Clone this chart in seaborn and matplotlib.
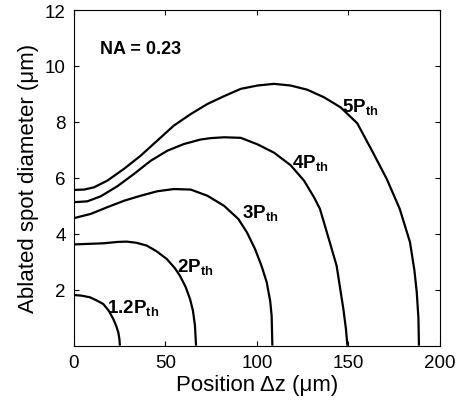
import matplotlib
matplotlib.use("Agg")
import matplotlib.pyplot as plt
import numpy as np
import pandas as pd
import seaborn as sns

# Ablated spot diameter (um) versus focal position dz (um) for several pulse powers
z_1p2 = [0, 4, 8.7, 12, 16, 19, 21.5, 23, 24.2, 24.8, 25.1]
d_1p2 = [1.81, 1.79, 1.73, 1.63, 1.49, 1.25, 0.95, 0.72, 0.48, 0.25, 0]

z_2 = [0, 8, 16, 24, 28.8, 34, 39.7, 45, 50.7, 55, 57.9, 61, 63.4, 65, 66.1, 66.7]
d_2 = [3.62, 3.64, 3.66, 3.71, 3.72, 3.68, 3.58, 3.38, 3.1, 2.78, 2.5, 2.1, 1.67, 1.25, 0.72, 0]

z_3 = [0, 9.1, 18.2, 27.3, 36.4, 45.5, 54.6, 63.8, 72.9, 82, 89.8, 94.5, 98.9,
       102.5, 105.3, 107.2, 108, 108.4]
d_3 = [4.56, 4.71, 4.95, 5.18, 5.36, 5.52, 5.6, 5.58, 5.36, 5.0, 4.53, 4.05, 3.46,
       2.85, 2.27, 1.6, 1.07, 0]

z_4 = [0, 7.3, 14.6, 23.7, 32.8, 41.9, 51, 60.1, 69.2, 74.7, 82, 91.1, 100.2, 109.3,
       118.4, 125.7, 131.2, 134.4, 139, 143.5, 147.2, 148.6, 149.4]
d_4 = [5.13, 5.16, 5.34, 5.7, 6.14, 6.61, 6.97, 7.21, 7.37, 7.42, 7.45, 7.43, 7.2, 6.9,
       6.45, 5.9, 5.3, 4.89, 3.87, 2.86, 1.31, 0.6, 0]

z_5 = [0, 5.5, 10.9, 18.2, 27.3, 36.4, 45.5, 54.6, 63.8, 72.9, 82, 91.1, 100.2, 109.3,
       118.4, 127.5, 136.6, 145.7, 154.8, 163, 170.9, 178, 183.6, 186, 187.3, 188.2, 188.5]
d_5 = [5.57, 5.58, 5.66, 5.9, 6.32, 6.79, 7.33, 7.87, 8.28, 8.64, 8.92, 9.18, 9.3, 9.36,
       9.3, 9.15, 8.88, 8.52, 7.95, 6.95, 5.96, 4.89, 3.7, 2.7, 1.91, 1.0, 0]

series_names = ["1.2", "2", "3", "4", "5"]
series_z = [z_1p2, z_2, z_3, z_4, z_5]
series_d = [d_1p2, d_2, d_3, d_4, d_5]

# label anchor (left, baseline) in data units for each curve
label_x = [17.9, 56.1, 91.6, 119, 146.4]
label_y = [1.20, 2.67, 4.60, 6.39, 8.39]

x_ticks = [0, 50, 100, 150, 200]
y_ticks = [2, 4, 6, 8, 10, 12]

frames = []
for name, z, d in zip(series_names, series_z, series_d):
    frames.append(pd.DataFrame({"z": z, "d": d, "power": name}))
df = pd.concat(frames, ignore_index=True)

sns.set_style("ticks")
plt.rcParams["font.family"] = ["Liberation Sans", "DejaVu Sans"]
plt.rcParams["text.color"] = "black"
plt.rcParams["axes.labelcolor"] = "black"
plt.rcParams["mathtext.fontset"] = "custom"
plt.rcParams["mathtext.rm"] = "Liberation Sans"
plt.rcParams["mathtext.bf"] = "Liberation Sans:bold"
plt.rcParams["mathtext.it"] = "Liberation Sans:italic"

fig = plt.figure(figsize=(4.59, 4.06), dpi=100)
ax = fig.add_axes([0.1612, 0.1461, 0.7974, 0.8268])

sns.lineplot(data=df, x="z", y="d", units="power", estimator=None, sort=False,
             color="black", linewidth=1.6, ax=ax)
for line in ax.get_lines():
    line.set_solid_joinstyle("round")
    line.set_solid_capstyle("butt")

for name, lx, ly in zip(series_names, label_x, label_y):
    ax.text(lx, ly, r"$\mathbf{" + name + r"P}_{\mathbf{th}}$", fontsize=13.5,
            ha="left", va="baseline", color="black")

ax.text(14.2, 10.46, "NA = 0.23", fontsize=13, fontweight="bold",
        ha="left", va="baseline", color="black")

ax.set_xlim(0, 200)
ax.set_ylim(0, 12)
ax.set_xticks(x_ticks)
ax.set_yticks(y_ticks)
ax.set_xlabel("Position \u0394z (\u03bcm)", fontsize=16, labelpad=2, color="black")
ax.set_ylabel("Ablated spot diameter (\u03bcm)", fontsize=16, labelpad=4, color="black")
ax.tick_params(direction="in", length=3.5, width=0.8, labelsize=13.5,
               top=True, right=True, colors="black", pad=6)
for sp in ax.spines.values():
    sp.set_visible(True)
    sp.set_linewidth(0.8)
    sp.set_color("black")

fig.savefig("out.png", dpi=100)
